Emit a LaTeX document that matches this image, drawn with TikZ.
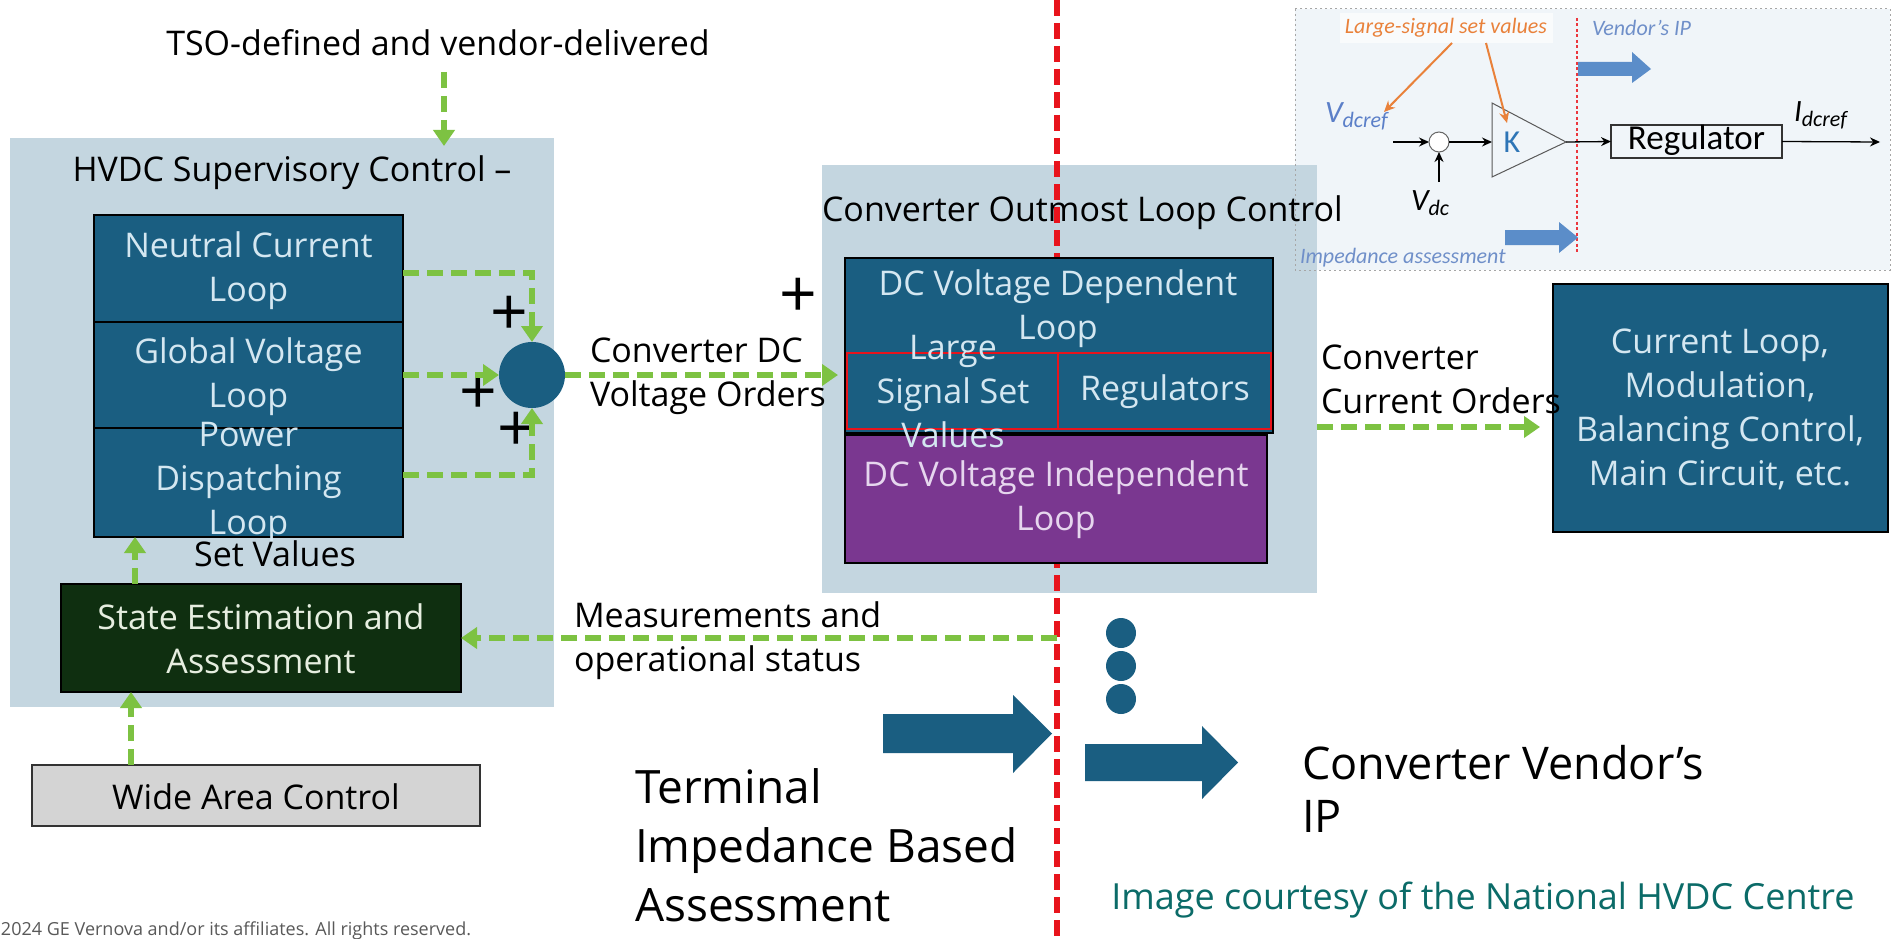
\documentclass[tikz,border=0pt]{standalone}
\usepackage{fontspec}
\setmainfont{Open Sans}
\newfontfamily\insetfont{Carlito}
\usetikzlibrary{arrows.meta,calc}
\newcommand\myfs[2]{\fontsize{#1}{#2}\selectfont}
\definecolor{lblue}{HTML}{C4D6E0}
\definecolor{tealc}{HTML}{1A5E81}
\definecolor{tealtext}{HTML}{D4E7F1}
\definecolor{purp}{HTML}{7A3790}
\definecolor{purptext}{HTML}{E6D6EE}
\definecolor{dgreen}{HTML}{0F2F10}
\definecolor{setext}{HTML}{E6EEE0}
\definecolor{gr}{HTML}{7DC242}
\definecolor{redc}{HTML}{E8141C}
\definecolor{grayfill}{HTML}{D4D4D4}
\definecolor{courtc}{HTML}{0B6B68}
\definecolor{insetbg}{HTML}{F0F5F9}
\definecolor{orangec}{HTML}{E9813A}
\definecolor{ipblue}{HTML}{6F8FC9}
\definecolor{arrblue}{HTML}{5B8DC9}
\definecolor{vblue}{HTML}{5B7FC8}
\definecolor{kblue}{HTML}{2E75B6}
\begin{document}
\begin{tikzpicture}[x=1pt,y=-1pt,
  every node/.style={inner sep=0pt, outer sep=0pt},
  lbg/.style={fill=lblue, draw=none},
  tealbox/.style={fill=tealc, draw=black, line width=2.5pt},
  lbl/.style={align=center, font=\myfs{34}{44}},
  inlbl/.style={lbl, text=tealtext},
  garrow/.style={draw=gr, line width=5.5pt, dash pattern=on 16pt off 8pt, -{Triangle[length=16pt,width=21pt]}},
  redline/.style={draw=redc, line width=5.5pt, dash pattern=on 16pt off 7pt},
  plus/.style={font=\myfs{66}{66}},
  ifont/.style={font=\insetfont\itshape\myfs{22}{24}},
  iarrow/.style={draw=black, line width=1.3pt, -{Stealth[length=10pt,width=9pt]}},
  oarrow/.style={draw=orangec, line width=2pt, -{Stealth[length=11pt,width=10pt]}},
  bigarrow/.style={fill=tealc},
  smallarrow/.style={fill=arrblue}
]
\useasboundingbox (0,0) rectangle (1892,939);
\fill[white] (0,0) rectangle (1892,939);

% background panels
\node[lbg, minimum width=544pt, minimum height=569pt] (hvdc) at (282,422.5) {};
\node[fill=insetbg, minimum width=595pt, minimum height=261pt] (inset) at (1592.5,139.5) {};
\node[lbg, minimum width=495pt, minimum height=428pt] (conv) at (1069.5,379) {};
\draw[gray!70, line width=1pt, dash pattern=on 2pt off 3pt] (inset.north west) rectangle (inset.south east);

% red boundary
\coordinate (rtop) at (1057,0);
\coordinate (rbot) at (1057,939);
\draw[redline] (rtop) -- (rbot);

% titles
\node[lbl] (tso) at (438,43) {TSO-defined and vendor-delivered};
\node[lbl] (hvdct) at (292,173) {HVDC Supervisory Control –};
\node[lbl, anchor=west] (convt) at (822,213) {Converter Outmost Loop Control};

% supervisory stack
\node[tealbox, minimum width=309pt, minimum height=107pt] (ncl) at (248.5,268.5) {};
\node[tealbox, minimum width=309pt, minimum height=106pt] (gvl) at (248.5,375) {};
\node[tealbox, minimum width=309pt, minimum height=109pt] (pdl) at (248.5,482.5) {};
\node[inlbl] (ncllbl) at (248.5,271) {Neutral Current\\Loop};
\node[inlbl] (gvllbl) at (248.5,377) {Global Voltage\\Loop};
\node[inlbl] (pdllbl) at (248.5,482) {Power\\Dispatching\\Loop};

\node[circle, fill=tealc, minimum size=66pt] (sum) at (532,375) {};
\node[plus] (p1) at (509,316) {+};
\node[plus] (p2) at (478,395) {+};
\node[plus] (p3) at (516,432) {+};
\node[plus] (p4) at (798,298) {+};

\draw[garrow] ($(ncl.east)+(0,4.5)$) -| (sum.north);
\draw[garrow] (gvl.east) -- (sum.west);
\draw[garrow] ($(pdl.east)+(0,-7.5)$) -| (sum.south);

\node[lbl, anchor=west, align=left] (cdvo) at (590,376) {Converter DC\\Voltage Orders};

% converter outmost loop
\node[tealbox, minimum width=428pt, minimum height=175pt] (dvd) at (1059,345.5) {};
\node[tealbox, fill=purp, minimum width=422pt, minimum height=128pt] (dvi) at (1056,499) {};
\node[draw=redc, line width=1.5pt, minimum width=211pt, minimum height=76pt] (lss) at (952.5,391) {};
\node[draw=redc, line width=1.5pt, minimum width=213pt, minimum height=76pt] (regs) at (1164.5,391) {};
\node[inlbl] (dvdlbl) at (1058,309) {DC Voltage Dependent\\Loop};
\node[inlbl] (lsslbl) at (953,392) {Large\\Signal Set\\Values};
\node[inlbl] (regslbl) at (1165,392) {Regulators};
\node[lbl, text=purptext] (dvilbl) at (1056,500) {DC Voltage Independent\\Loop};

\draw[garrow] (sum.east) -- ($(dvd.west |- sum.east)+(-7,0)$);

% right block
\node[tealbox, minimum width=335pt, minimum height=248pt] (cl) at (1720.5,408) {};
\node[inlbl] (cllbl) at (1720,409) {Current Loop,\\Modulation,\\Balancing Control,\\Main Circuit, etc.};
\node[lbl, anchor=west, align=left] (cco) at (1321,379) {Converter\\Current Orders};
\draw[garrow] ($(conv.east)+(0,48)$) -- ($(cl.west)+(-13,19)$);

% state estimation and wide area
\node[tealbox, fill=dgreen, minimum width=400pt, minimum height=108pt] (se) at (261,638) {};
\node[lbl, text=setext] (selbl) at (261,639) {State Estimation and\\Assessment};
\node[lbl] (setv) at (275,554) {Set Values};
\node[tealbox, fill=grayfill, draw=black!80, line width=2pt, minimum width=448pt, minimum height=61pt] (wac) at (256,795.5) {};
\node[lbl] (waclbl) at (256,797) {Wide Area Control};

\draw[garrow] ($(se.north west)+(74,0)$) -- ($(pdl.south west)+(41,0)$);
\draw[garrow] ($(wac.north west)+(99,0)$) -- ($(se.south west)+(70,0)$);
\coordinate (meas) at (1057,638);
\draw[garrow] (meas) -- (se.east);
\node[lbl, anchor=west, align=left] (measlbl) at (574,641) {Measurements and\\operational status};

\coordinate (tsoarr) at (444,72);
\draw[garrow] (tsoarr) -- ($(tsoarr |- hvdc.north)+(0,8)$);

% big arrows and dots
\fill[bigarrow] (883,714) -- (1013,714) -- (1013,695) -- (1052,733.5) -- (1013,773) -- (1013,753) -- (883,753) -- cycle;
\fill[bigarrow] (1085,744) -- (1202,744) -- (1202,726) -- (1238,762.5) -- (1202,799) -- (1202,781) -- (1085,781) -- cycle;
\fill[tealc] (1121,633) circle[radius=15];
\fill[tealc] (1121,666) circle[radius=15];
\fill[tealc] (1121,699) circle[radius=15];

\node[anchor=west, align=left, font=\myfs{46}{59}] (tiba) at (635,845) {Terminal\\Impedance Based\\Assessment};
\node[anchor=west, align=left, font=\myfs{45}{53}] (cvip) at (1302,789) {Converter Vendor’s\\IP};
\node[font=\myfs{36}{36}, text=courtc] (court) at (1483,900) {Image courtesy of the National HVDC Centre};
\node[anchor=west, font=\myfs{18}{18}, text=black!65] (copy) at (1,931) {2024 GE Vernova and/or its affiliates. All rights reserved.};

% inset diagram
\node[fill=white, fill opacity=0.6, text opacity=1, minimum width=213pt, minimum height=30pt, ifont, text=orangec] (lsv) at (1446,28) {Large-signal set values};
\node[ifont, text=ipblue, anchor=west] (vip) at (1592,28) {Vendor’s IP};
\coordinate (vt) at (1577,18);
\coordinate (vb) at (1577,252);
\draw[redc!85, line width=1.5pt, dash pattern=on 3pt off 2.5pt] (vt) -- (vb);
\fill[smallarrow] (1578,62) -- (1632,62) -- (1632,52) -- (1651,69) -- (1632,83) -- (1632,76) -- (1578,76) -- cycle;
\fill[smallarrow] (1505,230) -- (1559,230) -- (1559,222) -- (1578,237.5) -- (1559,253) -- (1559,245) -- (1505,245) -- cycle;
\node[ifont, text=ipblue, anchor=west] (impa) at (1300,258) {Impedance assessment};

\node[anchor=west, text=vblue, font=\insetfont\itshape\myfs{31}{31}] (vref) at (1325,116) {V\raisebox{-5pt}{\myfs{22}{22}dcref}};
\node[circle, draw=black!60, fill=white, line width=1pt, minimum size=20pt] (ssum) at (1439,142) {};
\coordinate (vin) at (1393,142);
\draw[iarrow] (vin) -- (ssum.west);
\coordinate (ka) at (1492,103);
\coordinate (kb) at (1492,177);
\coordinate (ktip) at (1566,142);
\coordinate (kin) at (1492,142);
\draw[black!65, line width=1pt] (ka) -- (ktip) -- (kb) -- cycle;
\node[text=kblue, font=\insetfont\myfs{32}{32}] (klbl) at (1512,142) {K};
\draw[iarrow] (ssum.east) -- (kin);
\node[draw=black!80, line width=1.2pt, minimum width=171pt, minimum height=33pt, font=\insetfont\myfs{35}{35}, text height=23pt, text depth=7pt] (regu) at (1696.5,141.5) {Regulator};
\draw[iarrow] (ktip) -- (regu.west);
\coordinate (iout) at (1880,142);
\draw[iarrow] (regu.east) -- (iout);
\node[anchor=west, font=\insetfont\itshape\myfs{31}{31}] (iref) at (1794,115) {I\raisebox{-5pt}{\myfs{22}{22}dcref}};
\coordinate (vdcin) at (1439,182);
\draw[iarrow] (vdcin) -- (ssum.south);
\node[anchor=west, font=\insetfont\itshape\myfs{31}{31}] (vdc) at (1411,203) {V\raisebox{-5pt}{\myfs{22}{22}dc}};
\draw[oarrow] ($(lsv.south)+(6,0)$) -- ($(vref.west)+(59,-4)$);
\draw[oarrow] ($(lsv.south)+(40,0)$) -- ($(klbl.center)+(-5,-19)$);
\end{tikzpicture}
\end{document}
